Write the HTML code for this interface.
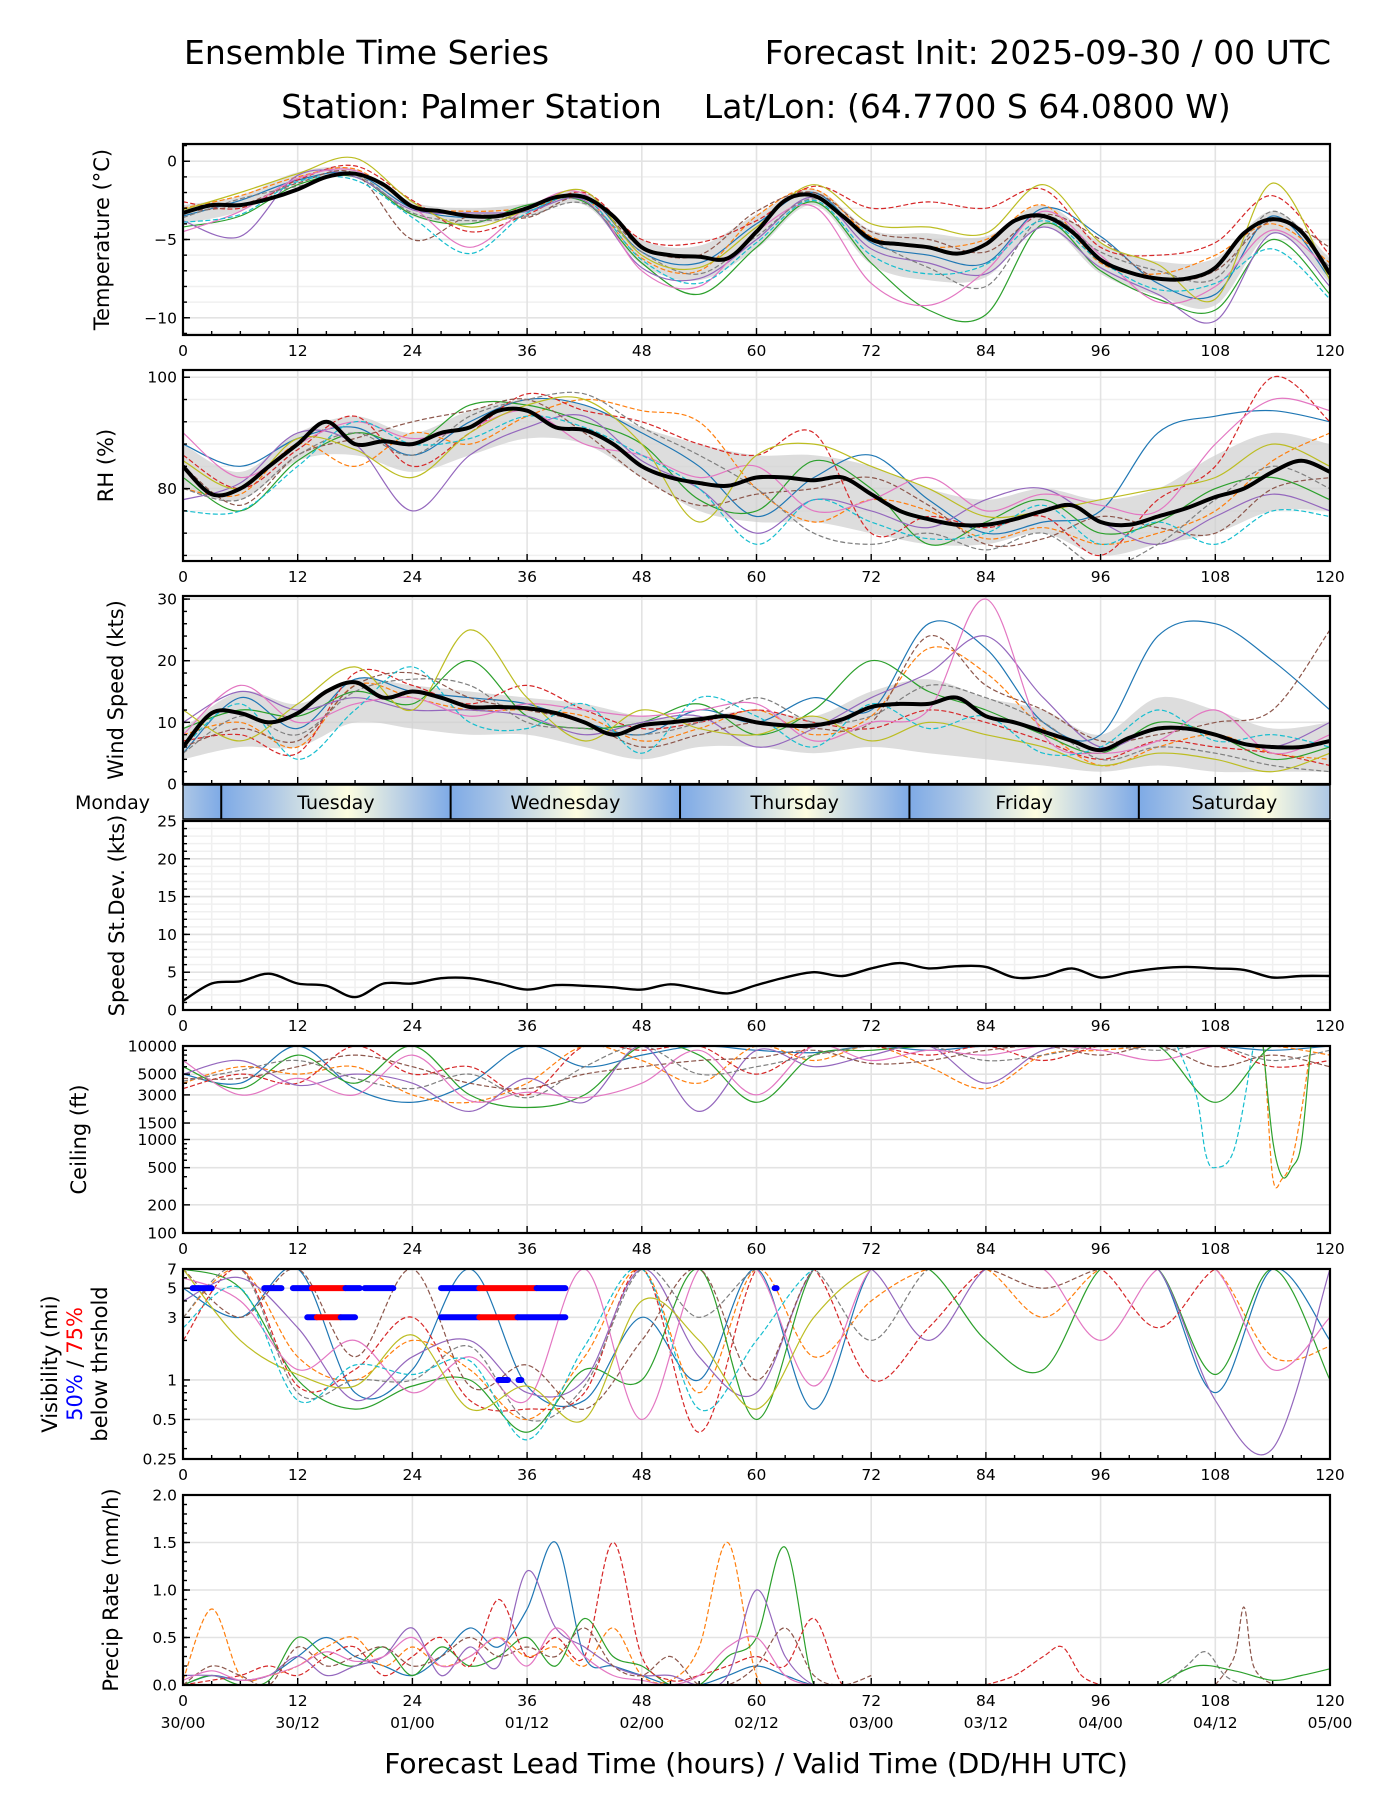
<!DOCTYPE html>
<html><head><meta charset="utf-8"><title>Ensemble Time Series</title>
<style>
html,body{margin:0;padding:0;background:#fff;}
svg{display:block;font-family:"DejaVu Sans","Liberation Sans",sans-serif;}
</style></head>
<body>
<svg id="chart" xmlns="http://www.w3.org/2000/svg" width="1400" height="1800" viewBox="0 0 1400 1800">
<rect x="0" y="0" width="1400" height="1800" fill="#fff"/>
<text x="184" y="64" font-size="33">Ensemble Time Series</text>
<text x="1331" y="64" font-size="33" text-anchor="end">Forecast Init: 2025-09-30 / 00 UTC</text>
<text x="756" y="118" font-size="33" text-anchor="middle" xml:space="preserve">Station: Palmer Station    Lat/Lon: (64.7700 S 64.0800 W)</text>
<text x="756" y="1773" font-size="28" text-anchor="middle">Forecast Lead Time (hours) / Valid Time (DD/HH UTC)</text>
<g id="layer"></g>
</svg>
<script>
// ---------- data ----------
const hours3 = [0,3,6,9,12,15,18,21,24,27,30,33,36,39,42,45,48,51,54,57,60,63,66,69,72,75,78,81,84,87,90,93,96,99,102,105,108,111,114,117,120];
const hours6 = [0,6,12,18,24,30,36,42,48,54,60,66,72,78,84,90,96,102,108,114,120];
const xTicks = [0,12,24,36,48,60,72,84,96,108,120];
const dateLabels = ["30/00","30/12","01/00","01/12","02/00","02/12","03/00","03/12","04/00","04/12","05/00"];
const dayNames = ["Tuesday","Wednesday","Thursday","Friday","Saturday"];
const dayStarts = [4,28,52,76,100];

const tempMean = [-3.3,-2.8,-2.8,-2.4,-1.8,-1.0,-0.8,-1.5,-2.9,-3.2,-3.5,-3.5,-3.0,-2.3,-2.3,-3.5,-5.5,-6.0,-6.1,-6.2,-4.5,-2.5,-2.2,-3.5,-5.0,-5.3,-5.5,-5.9,-5.3,-3.8,-3.5,-4.5,-6.3,-7.1,-7.5,-7.5,-6.8,-4.6,-3.7,-4.5,-7.2];
const tempLo = [-4.0,-3.2,-1.4,-1.0,-3.5,-4.0,-3.5,-2.8,-6.6,-7.6,-5.6,-2.8,-6.6,-7.6,-7.4,-4.2,-7.2,-8.6,-9.2,-4.6,-7.8];
const tempHi = [-2.8,-2.2,-0.7,-0.5,-2.6,-3.0,-2.7,-2.0,-5.0,-5.4,-3.4,-1.8,-4.4,-4.6,-4.8,-2.8,-5.2,-6.4,-6.2,-3.2,-6.2];
const tempMembers = [
[-3.5,-2.5,-1.2,-0.8,-3.0,-3.6,-3.2,-2.2,-5.8,-6.5,-4.0,-2.0,-5.2,-6.0,-6.5,-3.0,-4.8,-7.8,-8.5,-3.5,-7.5],
[-3.0,-2.2,-1.0,-0.5,-2.8,-3.2,-3.0,-2.4,-6.2,-7.0,-3.5,-1.8,-4.8,-5.5,-5.0,-2.8,-6.5,-7.2,-6.0,-4.0,-6.5],
[-4.2,-3.5,-1.5,-1.0,-3.4,-4.0,-2.8,-2.6,-6.5,-8.5,-5.5,-2.6,-6.5,-9.5,-9.8,-4.0,-7.0,-8.8,-9.5,-5.0,-8.5],
[-2.6,-3.0,-1.2,-0.3,-2.5,-4.5,-3.4,-2.0,-5.0,-5.2,-3.8,-1.6,-3.0,-2.6,-3.0,-1.8,-5.5,-6.0,-5.2,-2.2,-6.0],
[-3.8,-4.8,-0.9,-1.0,-3.1,-3.3,-3.2,-2.5,-6.8,-7.5,-5.0,-2.3,-5.6,-6.5,-7.2,-4.2,-6.8,-8.5,-10.2,-4.6,-8.0],
[-3.2,-2.8,-1.4,-0.8,-5.0,-3.5,-3.6,-2.3,-5.5,-6.0,-3.2,-2.0,-4.5,-5.0,-5.8,-3.4,-5.0,-7.5,-7.0,-3.8,-5.5],
[-4.5,-3.2,-1.1,-0.6,-2.9,-5.5,-3.0,-2.1,-7.0,-8.0,-4.5,-2.9,-7.8,-9.2,-7.0,-3.2,-6.0,-9.0,-8.0,-4.4,-7.0],
[-3.6,-2.4,-1.6,-0.9,-3.3,-3.8,-3.5,-2.7,-5.8,-7.2,-4.8,-2.4,-5.0,-6.8,-8.0,-3.6,-5.8,-7.0,-7.5,-3.2,-6.8],
[-3.1,-2.0,-0.8,0.2,-2.6,-4.2,-3.1,-1.9,-6.0,-6.8,-4.2,-1.5,-4.0,-4.2,-4.6,-1.5,-5.2,-6.6,-8.8,-1.4,-7.6],
[-3.9,-3.4,-1.3,-1.2,-3.6,-5.9,-3.3,-2.4,-6.3,-7.8,-5.2,-2.5,-6.0,-7.2,-6.6,-3.8,-6.4,-8.2,-7.8,-5.6,-8.8]
];

const rhMean = [84,79,80,84,88,92,88,88.5,88,90,91,94,94,91,90.5,88,84,82,81,80.5,82,82,81.5,82,79,76,74.5,73.5,73.5,74.5,76,77,74,73.5,75,76.5,78.5,80,83,85,83];
const rhLo = [80,78,85,86,83,86,89,88,82,76,74,74,72,70,70,72,68,70,72,76,76];
const rhHi = [88,83,90,93,90,94,96,95,91,88,86,86,84,80,78,80,78,80,86,90,88];
const rhMembers = [
[88,84,89,91,86,92,96,95,90,84,75,82,86,78,72,74,76,90,93,94,92],
[80,79,88,84,90,88,93,96,94,92,80,74,78,76,71,73,70,72,76,85,90],
[82,76,85,90,88,95,95,92,88,78,76,85,80,70,74,78,72,74,80,82,78],
[86,80,87,93,84,90,97,94,92,88,86,90,72,75,73,75,68,78,84,100,92],
[78,81,90,88,76,86,91,93,85,80,72,78,76,73,78,80,74,70,75,79,76],
[84,77,86,89,92,94,96,90,82,77,79,80,82,77,70,71,75,73,72,80,82],
[90,82,88,92,89,91,94,88,86,82,84,76,78,82,76,79,77,76,88,96,94],
[80,78,86,90,86,93,96,97,91,86,80,72,70,72,69,72,66,70,78,84,80],
[85,80,89,87,82,90,95,96,88,74,86,88,84,80,75,76,78,80,82,88,84],
[76,76,84,92,88,89,93,91,86,80,70,78,74,71,72,77,70,74,70,76,75]
];

const windMean = [6,11.5,11.5,10,11.5,15,16.5,14,15,14,12.5,12.5,12.3,11.5,10,8,9.5,10,10.5,11,10,9.5,9.5,10.5,12.5,13,13,14,11,10,8.5,7,5.5,7.5,9,9,8,6.5,6,6,7];
const windLo = [4,6,6,10,9,8,8,6,4,6,6,5,6,5,4,3,2,3,2,2,2];
const windHi = [9,15,13,17,16,15,14,13,11,11,12,11,15,17,14,12,8,14,12,9,10];
const windMembers = [
[5,14,9,17,15,14,13,10,8,12,10,14,12,26,22,10,8,24,26,20,12],
[8,10,6,16,14,12,12,11,7,9,12,8,11,22,18,9,3,6,8,5,4],
[9,12,11,15,13,20,11,9,10,13,8,12,20,15,12,8,5,10,8,4,6],
[7,8,5,18,16,13,16,12,9,10,12,10,9,12,10,7,4,7,6,5,3],
[10,15,12,14,12,12,11,8,10,11,6,9,14,18,24,14,6,9,8,6,10],
[6,9,7,16,18,14,12,10,6,8,10,9,10,24,16,12,7,8,10,12,25],
[8,16,10,13,14,11,13,12,11,12,13,7,10,12,30,8,5,7,12,5,8],
[5,11,8,15,17,16,10,9,8,10,14,10,11,16,14,10,4,6,5,3,2],
[12,7,13,19,12,25,14,7,12,9,8,11,7,10,8,6,3,5,4,2,5],
[6,13,4,12,19,10,9,13,5,14,11,6,13,9,11,5,6,12,7,8,6]
];

const sdMean = [1.2,3.5,3.8,4.8,3.5,3.2,1.7,3.5,3.5,4.2,4.2,3.5,2.7,3.3,3.2,3.0,2.7,3.4,2.8,2.2,3.3,4.3,5.0,4.5,5.5,6.2,5.5,5.8,5.7,4.3,4.5,5.5,4.3,5.0,5.5,5.7,5.5,5.3,4.3,4.5,4.5];

const ceilMembers = [
[5000,4000,10000,3500,2500,4000,10000,6000,8000,10000,9000,8500,10000,9000,10000,10000,10000,10000,10000,9000,10000],
[4000,6000,5000,6000,3000,2500,4000,10000,7000,4000,10000,7000,10000,6000,3500,8000,9000,10000,10000,10000,8000],
[6000,3500,8000,4000,10000,3000,2200,3000,10000,8000,2500,8000,9000,10000,10000,10000,10000,10000,2500,10000,10000],
[3500,5000,4000,10000,5000,6000,3000,10000,9000,10000,5000,10000,10000,8000,10000,7000,10000,10000,10000,6000,7000],
[5000,7000,3800,5000,4000,2000,4500,2500,10000,2000,9000,6000,8000,10000,4000,9000,10000,10000,10000,10000,10000],
[4500,4500,6000,8000,6000,4000,3500,5000,6000,7000,7500,9000,6500,7000,9000,10000,8000,10000,6000,8000,6000],
[7000,3000,4500,3000,8000,2600,3200,2800,4000,9000,3000,10000,7000,9000,8000,10000,9000,7000,10000,10000,10000],
[4200,5500,7000,4500,3500,5000,2800,6000,10000,5000,6000,8000,10000,10000,7000,8000,10000,9000,10000,7000,9000]
];
const ceilDropX = [[104,106,107,108,110,112],[112,113,114,115,116,117,118],[113,114,115,116,117,118]];
const ceilDropY = [[10000,3000,700,500,800,10000],[10000,10000,400,380,600,2000,10000],[10000,1000,400,500,900,10000]];

const visMembers = [
[5,3,7,0.8,1.2,7,0.9,0.7,3,1,7,0.6,7,7,7,7,7,7,0.8,7,2],
[3,7,1.5,1,2,1.2,0.5,1.5,7,0.8,7,1.5,4,7,7,3,7,7,7,1.5,1.8],
[7,5,1,0.6,0.9,1,0.4,1.2,1,7,0.5,7,7,7,2,1.2,7,7,1.1,7,1],
[2,7,0.9,1.2,3,0.7,0.6,0.8,7,0.4,7,7,1,2.5,7,7,7,2.5,7,7,7],
[4,6,2.5,0.7,1.5,2,0.8,1,7,1.5,0.8,7,7,2,7,7,7,7,0.7,0.3,7],
[7,3,7,1.5,7,0.9,1.3,0.6,2,7,1,7,7,7,7,5,7,7,7,7,7],
[6,4,1.2,2,0.8,1.5,0.7,7,0.5,7,7,0.9,7,7,7,7,2,7,7,1.2,3],
[3,7,0.8,1,1,1.8,0.5,0.9,7,3,7,7,2,7,7,7,7,7,7,7,7],
[7,2,1.1,0.9,2.2,0.6,0.9,0.5,4,2,0.6,3,7,7,7,7,7,7,7,7,7],
[2.5,5,0.7,1.3,1.1,1.4,0.35,1.8,7,0.6,2,7,7,7,7,7,7,7,7,7,7]
];
const visSegY = [5,5,5,5,5,5,5,5,5,3,3,3,3,3,3,1,1,5];
const visSegStart = [1,8.5,11.5,13.5,17,19,27,31,37,13,14,16.5,27,31,35,33,35.1,61.9];
const visSegEnd = [3,10.3,13.5,17,18.5,22,31,37,40,14,16.5,18,31,35,40,34,35.4,62.1];
const visSegColor = ["blue","blue","blue","red","blue","blue","blue","red","blue","blue","red","blue","blue","red","blue","blue","blue","blue"];

const precipHours = [0,3,6,9,12,15,18,21,24,27,30,33,36,39,42,45,48,51,54,57,60,63,66,69,72];
const precipMembers = [
[0,0.1,0.05,0.1,0.3,0.5,0.3,0.2,0.1,0.3,0.6,0.4,0.8,1.5,0.3,0.2,0.1,0,0,0.1,0.2,0.1,0,0,0],
[0.05,0.8,0.1,0.1,0.2,0.4,0.5,0.2,0.4,0.2,0.3,0.5,0.3,0.4,0.2,0.6,0.1,0.05,0.4,1.5,0.1,0,0,0,0],
[0,0.1,0,0.05,0.5,0.3,0.2,0.4,0.1,0.4,0.2,0.3,0.5,0.2,0.7,0.3,0.2,0,0,0.3,0.5,1.45,0,0,0],
[0,0.05,0.1,0.2,0.1,0.3,0.4,0.1,0.3,0.5,0.2,0.9,0.3,0.5,0.3,1.5,0.3,0.05,0.1,0.2,0.3,0.2,0.7,0,0],
[0.1,0.1,0.05,0.1,0.3,0.1,0.2,0.3,0.6,0.1,0.4,0.2,1.2,0.6,0.4,0.2,0.1,0.1,0,0.1,1.0,0.3,0,0,0],
[0,0.2,0.1,0,0.4,0.2,0.3,0.4,0.2,0.3,0.5,0.3,0.4,0.3,0.6,0.2,0.1,0.3,0,0,0.2,0.6,0.1,0,0.1],
[0.05,0.15,0.05,0.1,0.2,0.35,0.25,0.3,0.5,0.2,0.3,0.5,0.2,0.6,0.3,0.1,0.05,0,0.1,0.4,0.5,0.1,0,0,0]
];
const precipLateX = [[84,87,90,92,94,96],[103,105,107,109,111],[108,110,111,112,114],[102,106,110,114,117,120]];
const precipLateY = [[0,0.1,0.3,0.4,0.1,0],[0.02,0.2,0.35,0.1,0],[0,0.3,0.82,0.2,0],[0,0.2,0.15,0.05,0.1,0.17]];

// ---------- helpers ----------
const NS = "http://www.w3.org/2000/svg";
const layer = document.getElementById("layer");
const X0 = 183, X1 = 1330;
const colors = ["#1f77b4","#ff7f0e","#2ca02c","#d62728","#9467bd","#8c564b","#e377c2","#7f7f7f","#bcbd22","#17becf"];
function xs(h){ return X0 + (h/120)*(X1-X0); }
function mk(tag, attrs, parent){
  const e = document.createElementNS(NS, tag);
  for (const k in attrs) e.setAttribute(k, attrs[k]);
  (parent||layer).appendChild(e);
  return e;
}
function smoothPath(px, py){
  let d = "M" + px[0].toFixed(1) + "," + py[0].toFixed(1);
  for (let i=0;i<px.length-1;i++){
    const p0x = px[Math.max(0,i-1)], p0y = py[Math.max(0,i-1)];
    const p3x = px[Math.min(px.length-1,i+2)], p3y = py[Math.min(px.length-1,i+2)];
    const c1x = px[i] + (px[i+1]-p0x)/6, c1y = py[i] + (py[i+1]-p0y)/6;
    const c2x = px[i+1] - (p3x-px[i])/6, c2y = py[i+1] - (p3y-py[i])/6;
    d += "C"+c1x.toFixed(1)+","+c1y.toFixed(1)+" "+c2x.toFixed(1)+","+c2y.toFixed(1)+" "+px[i+1].toFixed(1)+","+py[i+1].toFixed(1);
  }
  return d;
}
let clipN = 0;
function makePanel(p){
  const g = mk("g", {});
  
  
  const cid = "clip" + (clipN++);
  const cp = mk("clipPath", {id: cid}, g);
  mk("rect", {x: X0, y: p.top, width: X1-X0, height: p.bottom-p.top}, cp);
  const ys = v => p.bottom - (p.tr(v)-p.tr(p.ymin))/(p.tr(p.ymax)-p.tr(p.ymin))*(p.bottom-p.top);
  if (p.minorGridY) p.minorGridY.forEach(v=>{ const y=ys(v); const l=mk("line",{x1:X0,x2:X1,y1:y,y2:y,stroke:"#f0f0f0","stroke-width":1.5},g);   });
  if (p.minorGridX) for (let h=3;h<120;h+=3){ if(h%12){ const x=xs(h); const l=mk("line",{x1:x,x2:x,y1:p.top,y2:p.bottom,stroke:"#f0f0f0","stroke-width":1.5},g);   } }
  xTicks.forEach(h=>{ const x=xs(h); const l=mk("line",{x1:x,x2:x,y1:p.top,y2:p.bottom,stroke:"#e3e3e3","stroke-width":1.6},g);   });
  p.yticks.forEach(v=>{ const y=ys(v); const l=mk("line",{x1:X0,x2:X1,y1:y,y2:y,stroke:"#e3e3e3","stroke-width":1.6},g);   });
  const plot = mk("g", {"clip-path": "url(#"+cid+")"}, g);
  
  
  p.draw(plot, ys);
  const fr = mk("rect",{x:X0,y:p.top,width:X1-X0,height:p.bottom-p.top,fill:"none",stroke:"#000","stroke-width":2.2},g);
  
  
  for (let h=0;h<=120;h+=3){
    const x=xs(h); const len = h%12===0?7:4;
    const t = mk("line",{x1:x,x2:x,y1:p.bottom,y2:p.bottom-len,stroke:"#000","stroke-width":1.4},g);
     
  }
  if (!p.noXLabels) xTicks.forEach((h,i)=>{
    const t = mk("text",{x:xs(h),y:p.bottom+21,"font-size":15.5,"text-anchor":"middle"},g);
    t.textContent = h;
     
    if (p.dates){
      const d = mk("text",{x:xs(h),y:p.bottom+43,"font-size":15.5,"text-anchor":"middle"},g);
      d.textContent = dateLabels[i];
       
    }
  });
  (p.minorTicks||[]).forEach(v=>{ const y=ys(v); const t=mk("line",{x1:X0,x2:X0+4,y1:y,y2:y,stroke:"#000","stroke-width":1.4},g);   });
  p.yticks.forEach((v,i)=>{
    const y=ys(v);
    const t=mk("line",{x1:X0,x2:X0+7,y1:y,y2:y,stroke:"#000","stroke-width":1.4},g);
     
    const tl=mk("text",{x:X0-6,y:y+5.5,"font-size":15.5,"text-anchor":"end"},g);
    tl.textContent = p.ylabels ? p.ylabels[i] : (v<0 ? "\u2212"+Math.abs(v) : v);
     
  });
  if (p.ytitle){
    const cy=(p.top+p.bottom)/2;
    const tt=mk("text",{x:0,y:0,"font-size":21,"text-anchor":"middle",transform:"translate("+p.ytitleX+","+cy+") rotate(-90)"},g);
    tt.textContent=p.ytitle;
     
  }
  return ys;
}
function drawMember(plot, hx, vals, ys, i, name){
  const px = hx.map(xs), py = vals.map(ys);
  const e = mk("path",{d:smoothPath(px,py),fill:"none",stroke:colors[i%10],"stroke-width":1.2,"stroke-dasharray":(i%2? "5,2.5":"none")},plot);
  
  
}
function drawBand(plot, lo, hi, ys, name){
  const pxl = hours6.map(xs);
  const top = smoothPath(pxl, hi.map(ys));
  const rx = pxl.slice().reverse(), ry = lo.map(ys).reverse();
  const bot = smoothPath(rx, ry).replace(/^M/,"L");
  const e = mk("path",{d: top + bot + "Z", fill:"#cfcfcf","fill-opacity":0.7},plot);
  
  
}
function drawMean(plot, vals, ys, w, name){
  const e = mk("path",{d:smoothPath(hours3.map(xs), vals.map(ys)),fill:"none",stroke:"#000","stroke-width":w,"stroke-linejoin":"round"},plot);
  
  
}
const lin = v=>v, lg = v=>Math.log10(v);
function range(a,b,s){ const r=[]; for(let v=a; v<=b+1e-9; v+=s) r.push(+v.toFixed(3)); return r; }

makePanel({name:"temperature", top:144, bottom:335, ymin:-11.1, ymax:1.1, tr:lin, yticks:[0,-5,-10], minorTicks:range(-11,1,1), minorGridY:range(-11,1,1), ytitle:"Temperature (\u00b0C)", ytitleX:109,
  draw:(pl,ys)=>{ drawBand(pl,tempLo,tempHi,ys,"temperature-spread-band"); tempMembers.forEach((m,i)=>drawMember(pl,hours6,m,ys,i,"temperature-member")); drawMean(pl,tempMean,ys,4,"temperature-ensemble-mean"); }});
makePanel({name:"rh", top:370, bottom:561, ymin:67, ymax:101.3, tr:lin, yticks:[100,80], minorTicks:range(68,100,4), minorGridY:range(68,100,4), ytitle:"RH (%)", ytitleX:113,
  draw:(pl,ys)=>{ drawBand(pl,rhLo,rhHi,ys,"rh-spread-band"); rhMembers.forEach((m,i)=>drawMember(pl,hours6,m,ys,i,"rh-member")); drawMean(pl,rhMean,ys,4,"rh-ensemble-mean"); }});
makePanel({name:"wind-speed", top:596, bottom:784, ymin:0, ymax:30.5, tr:lin, yticks:[0,10,20,30], minorTicks:range(0,30,2), ytitle:"Wind Speed (kts)", ytitleX:123, noXLabels:true,
  draw:(pl,ys)=>{ drawBand(pl,windLo,windHi,ys,"wind-spread-band"); windMembers.forEach((m,i)=>drawMember(pl,hours6,m,ys,i,"wind-member")); drawMean(pl,windMean,ys,4,"wind-ensemble-mean"); }});
(function(){
  const g = mk("g",{});
  
  
  const top=785, bot=819;
  const seg = [-20].concat(dayStarts);
  seg.forEach((s,i)=>{
    const a=Math.max(0,s), b=Math.min(120,s+24);
    const full0 = xs(s), full1 = xs(s+24);
    const gid = "dg"+i;
    const lg2 = mk("linearGradient",{id:gid,gradientUnits:"userSpaceOnUse",x1:full0,x2:full1,y1:0,y2:0},g);
    [["0","#7eaae6"],["0.2","#a8c4e6"],["0.55","#fdfde0"],["0.85","#a8c4e6"],["1","#7eaae6"]].forEach(st=>mk("stop",{offset:st[0],"stop-color":st[1]},lg2));
    const r = mk("rect",{x:xs(a),y:top,width:xs(b)-xs(a),height:bot-top,fill:"url(#"+gid+")"},g);
    
    
  });
  dayStarts.forEach((s,i)=>{
    const l = mk("line",{x1:xs(s),x2:xs(s),y1:top,y2:bot,stroke:"#000","stroke-width":2},g);
     
    const t = mk("text",{x:xs(Math.min(s+12,110)),y:top+24,"font-size":19,"text-anchor":"middle"},g);
    t.textContent = dayNames[i];
     
  });
  const m = mk("text",{x:150,y:top+24,"font-size":19,"text-anchor":"end"},g);
  m.textContent = "Monday";
   
  const f = mk("rect",{x:X0,y:top,width:X1-X0,height:bot-top,fill:"none",stroke:"#000","stroke-width":1.5},g);
   
})();
makePanel({name:"speed-stdev", top:821, bottom:1010, ymin:0, ymax:25, tr:lin, yticks:[0,5,10,15,20,25], minorTicks:range(0,25,1), minorGridY:range(0,25,1), minorGridX:true, ytitle:"Speed St.Dev. (kts)", ytitleX:124,
  draw:(pl,ys)=>{ drawMean(pl,sdMean,ys,2.4,"speed-stdev-line"); }});
makePanel({name:"ceiling", top:1046, bottom:1233, ymin:100, ymax:10000, tr:lg, yticks:[100,200,500,1000,1500,3000,5000,10000], minorTicks:[300,400,600,700,800,900,2000,4000,6000,7000,8000,9000], ytitle:"Ceiling (ft)", ytitleX:86,
  draw:(pl,ys)=>{ ceilMembers.forEach((m,i)=>drawMember(pl,hours6,m.map(v=>Math.min(v,10000)),ys,i,"ceiling-member")); ceilDropX.forEach((xh,i)=>drawMember(pl,xh,ceilDropY[i],ys,[9,1,2][i],"ceiling-member")); }});
makePanel({name:"visibility", top:1269, bottom:1459, ymin:0.25, ymax:7, tr:lg, yticks:[0.25,0.5,1,3,5,7], ylabels:["0.25","0.5","1","3","5","7"], minorTicks:[0.3,0.4,0.6,0.7,0.8,0.9,2,4,6],
  draw:(pl,ys)=>{ visMembers.forEach((m,i)=>drawMember(pl,hours6,m,ys,i,"visibility-member"));
    visSegY.forEach((v,i)=>{ const y=ys(v); const e=mk("line",{x1:xs(visSegStart[i]),x2:xs(visSegEnd[i]),y1:y,y2:y,stroke:visSegColor[i],"stroke-width":6,"stroke-linecap":"round"},pl);   }); }});
(function(){
  const cy=(1269+1459)/2;
  const t1=mk("text",{"font-size":21,"text-anchor":"middle",transform:"translate(57,"+cy+") rotate(-90)"});
  t1.textContent="Visibility (mi)";
   
  const t2=mk("text",{"font-size":21,"text-anchor":"middle",transform:"translate(82,"+cy+") rotate(-90)"});
   
  const s1=mk("tspan",{fill:"blue"},t2); s1.textContent="50%";
  const s2=mk("tspan",{fill:"#000"},t2); s2.textContent=" / ";
  const s3=mk("tspan",{fill:"red"},t2); s3.textContent="75%";
  const t3=mk("text",{"font-size":21,"text-anchor":"middle",transform:"translate(107,"+cy+") rotate(-90)"});
  t3.textContent="below thrshold";
   
})();
makePanel({name:"precip-rate", top:1495, bottom:1685, ymin:0, ymax:2.0, tr:lin, yticks:[0,0.5,1,1.5,2], ylabels:["0.0","0.5","1.0","1.5","2.0"], minorTicks:range(0,2,0.1), ytitle:"Precip Rate (mm/h)", ytitleX:118, dates:true,
  draw:(pl,ys)=>{ precipMembers.forEach((m,i)=>drawMember(pl,precipHours,m,ys,i,"precip-member")); precipLateX.forEach((xh,i)=>drawMember(pl,xh,precipLateY[i],ys,[3,7,5,2][i],"precip-member")); }});
</script>
</body></html>
